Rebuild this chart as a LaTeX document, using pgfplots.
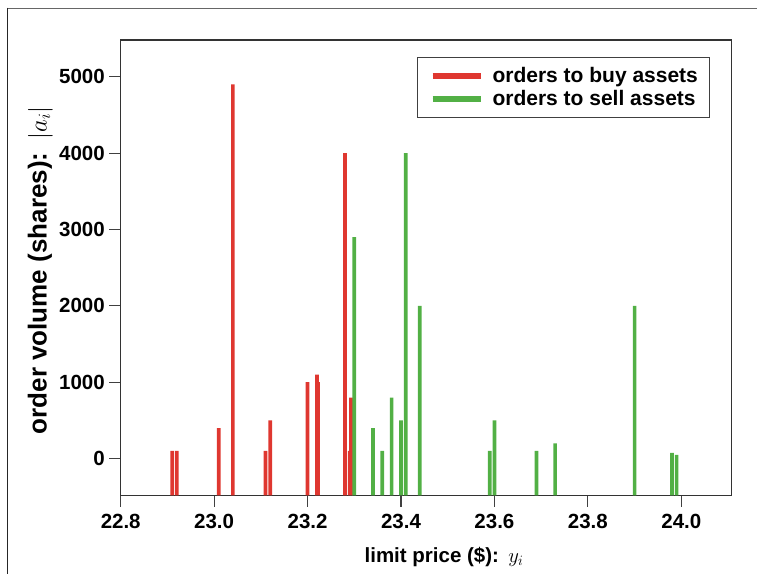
\documentclass[border=0pt]{standalone}
\usepackage{fontspec}
\setmainfont{Liberation Sans}
\usepackage{pgfplots}
\pgfplotsset{compat=1.18}
\definecolor{buycol}{RGB}{223,55,48}
\definecolor{sellcol}{RGB}{82,176,69}
\newcommand{\lblfont}{\fontsize{20.5bp}{24bp}\selectfont\bfseries}
\newcommand{\ylblfont}{\fontsize{26bp}{30bp}\selectfont\bfseries}
\newcommand{\legfont}{\fontsize{21bp}{24bp}\selectfont\bfseries}
\begin{document}
\begin{tikzpicture}
\useasboundingbox (0,0) rectangle (757bp,574bp);
\draw[line width=1.5bp, black!60] (7.3bp,565.7bp) -- (757bp,565.7bp);
\draw[line width=1.5bp, black!85] (7.3bp,566.4bp) -- (7.3bp,0bp);
\begin{axis}[
  at={(120.7bp,78.7bp)}, anchor=south west,
  scale only axis, width=610.6bp, height=455.3bp,
  xmin=22.8, xmax=24.107, ymin=-480, ymax=5480,
  y coord trafo/.code={\pgfmathparse{#1+480}},
  y coord inv trafo/.code={\pgfmathparse{#1-480}},
  xtick={22.8,23,23.2,23.4,23.6,23.8,24},
  ytick={0,1000,2000,3000,4000,5000},
  xtick pos=bottom, ytick pos=left,
  tick align=outside,
  major tick length=11.4bp,
  tick style={line width=1.1bp, black!75},
  axis line style={line width=1.5bp, black!80},
  /pgf/number format/assume math mode=true,
  tick label style={font=\lblfont},
  xticklabel style={yshift=-4bp, /pgf/number format/.cd, fixed, fixed zerofill, precision=1},
  yticklabel style={xshift=-1bp, /pgf/number format/.cd, fixed, precision=0, 1000 sep={}},
  xlabel={limit price (\$):\hspace{0.45em}$y_i$},
  ylabel={order volume (shares):\hspace{0.5em}$|a_i|$},
  every axis x label/.style={at={(axis description cs:0.5295,-0.1465)}, anchor=base, font=\lblfont},
  every axis y label/.style={at={(axis description cs:-0.1215,0.4937)}, anchor=base, rotate=90, font=\ylblfont},
  legend cell align=left,
  legend style={at={(axis description cs:0.4853,0.9627)}, anchor=north west,
    draw=black!75, line width=1bp, fill=white,
    inner xsep=12bp, inner ysep=8.8bp, row sep=4.5bp, column sep=9bp,
    font=\legfont,
    nodes={inner sep=0pt, text height=16.2bp, text depth=2.6bp}},
]
\addplot[ybar, bar shift=0pt, bar width=0.0078, fill=buycol, draw=none,
  legend image code/.code={\draw[line width=6bp, buycol] (0bp,0bp) -- (48bp,0bp);}]
  coordinates {
  (22.91,100) (22.92,100) (23.01,400) (23.04,4900) (23.11,100) (23.12,500)
  (23.20,1000) (23.2203,1100) (23.2225,1000) (23.28,4000) (23.293,800) (23.29,100)
  };
\addlegendentry{orders to buy assets}
\addplot[ybar, bar shift=0pt, bar width=0.0078, fill=sellcol, draw=none,
  legend image code/.code={\draw[line width=6bp, sellcol] (0bp,0bp) -- (48bp,0bp);}]
  coordinates {
  (23.30,2900) (23.34,400) (23.36,100) (23.38,800) (23.40,500) (23.41,4000)
  (23.44,2000) (23.59,100) (23.60,500) (23.69,100) (23.73,200) (23.90,2000)
  (23.98,75) (23.99,50)
  };
\addlegendentry{orders to sell assets}
\end{axis}
\end{tikzpicture}
\end{document}
